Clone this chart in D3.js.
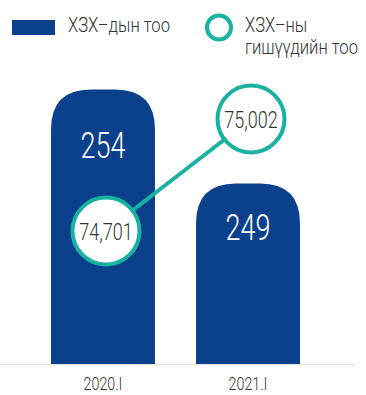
<!DOCTYPE html>
<html><head><meta charset="utf-8">
<script src="https://cdn.jsdelivr.net/npm/d3@7"></script>
<style>
html,body{margin:0;padding:0;background:#fff;}
text{font-family:Roboto,"Liberation Sans",sans-serif;font-weight:300;}
</style></head>
<body><svg id="c" width="366" height="395"></svg>
<script>
const categories = ["2020.I", "2021.I"];
const barValues = [254, 249];
const lineValues = [74701, 75002];
const legendLabels = ["ХЗХ–дын тоо", ["ХЗХ–ны", "гишүүдийн тоо"]];

const barColor = "#0a408c", lineColor = "#19b2a0", textColor = "#333";
const SX = 0.75, LSX = 0.83;
const svg = d3.select("#c");
const baseY = 364;

const x = d3.scaleBand().domain(categories).range([22, 329]).paddingInner(0.283).paddingOuter(0.2);
const y = d3.scaleLinear().domain([239.4, 254]).range([baseY, 89.5]);
const y2 = d3.scaleLinear().domain([74701, 75002]).range([231, 119]);
const cx = c => x(c) + x.bandwidth() / 2;

// baseline
svg.append("line").attr("x1", 0).attr("x2", 355).attr("y1", baseY + 0.5).attr("y2", baseY + 0.5)
  .attr("stroke", "#e6e6e6").attr("stroke-width", 1.5);

// bars with rounded tops
function barPath(x0, w, top, bottom, r) {
  return `M${x0},${bottom} L${x0},${top + r} Q${x0},${top} ${x0 + r},${top} L${x0 + w - r},${top} Q${x0 + w},${top} ${x0 + w},${top + r} L${x0 + w},${bottom} Z`;
}
const bars = categories.map((c, i) => ({c, v: barValues[i], l: lineValues[i]}));
svg.selectAll("path.bar").data(bars).join("path").attr("class", "bar")
  .attr("d", d => barPath(x(d.c), x.bandwidth(), y(d.v), baseY, 40))
  .attr("fill", barColor);

svg.selectAll("text.bv").data(bars).join("text").attr("class", "bv")
  .attr("transform", d => `translate(${cx(d.c)},${y(d.v) + 0.13 * (baseY - y(d.v)) + 33}) scale(${SX},1)`)
  .attr("text-anchor", "middle").attr("fill", "#fff").attr("font-size", 36)
  .text(d => d.v);

// line
const lx = d => cx(d.c) + 3;
const line = d3.line().x(lx).y(d => y2(d.l));
svg.append("path").datum(bars).attr("d", line).attr("fill", "none")
  .attr("stroke", lineColor).attr("stroke-width", 4);
svg.selectAll("circle.pt").data(bars).join("circle").attr("class", "pt")
  .attr("cx", lx).attr("cy", d => y2(d.l)).attr("r", 33.5)
  .attr("fill", "#fff").attr("stroke", lineColor).attr("stroke-width", 4);
svg.selectAll("text.lv").data(bars).join("text").attr("class", "lv")
  .attr("transform", d => `translate(${lx(d)},${y2(d.l) + 9}) scale(${SX},1)`)
  .attr("text-anchor", "middle").attr("fill", textColor).attr("font-size", 24)
  .text(d => d3.format(",")(d.l));

// x axis labels
svg.selectAll("text.xl").data(categories).join("text").attr("class", "xl")
  .attr("transform", d => `translate(${cx(d)},390) scale(${SX},1)`)
  .attr("text-anchor", "middle").attr("fill", textColor).attr("font-size", 19)
  .text(d => d);

// legend
svg.append("rect").attr("x", 12).attr("y", 20).attr("width", 43).attr("height", 15).attr("fill", barColor);
svg.append("text").attr("transform", `translate(68,32) scale(${LSX},1)`).attr("fill", textColor).attr("font-size", 20).text(legendLabels[0]);
svg.append("circle").attr("cx", 219).attr("cy", 27.5).attr("r", 12).attr("fill", "#fff")
  .attr("stroke", lineColor).attr("stroke-width", 4);
const lt = svg.append("text").attr("transform", `translate(245,32) scale(${LSX},1)`).attr("fill", textColor).attr("font-size", 20);
lt.selectAll("tspan").data(legendLabels[1]).join("tspan").attr("x", 0).attr("dy", (d, i) => i ? 21.6 : 0).text(d => d);
</script></body></html>
